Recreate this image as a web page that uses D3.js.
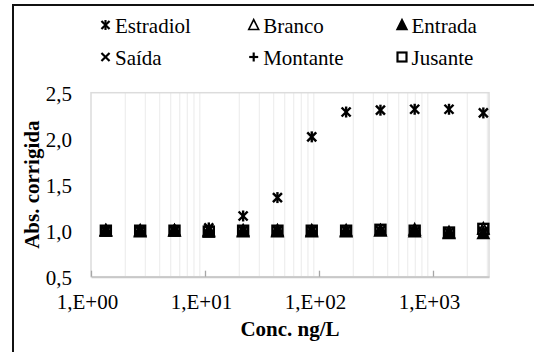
<!DOCTYPE html>
<html lang="pt">
<head>
  <meta charset="UTF-8">
  <title>Abs. corrigida vs Conc.</title>
  <script src="https://cdnjs.cloudflare.com/ajax/libs/d3/7.8.5/d3.min.js"></script>
  <style>
    body { margin: 0; background: #fff; }
    svg { display: block; }
  </style>
</head>
<body>
<svg id="chart" width="534" height="352"></svg>
<script>
// concentrations (ng/L) and corrected absorbance per sample
const conc      = [1.35, 2.7, 5.4, 10.8, 21.6, 43.2, 86.4, 173, 346, 691, 1382, 2765];
const estradiol = [1.00, 1.00, 1.00, 1.03, 1.16, 1.36, 2.02, 2.29, 2.31, 2.32, 2.32, 2.28];
const branco    = [1.00, 1.00, 1.00, 1.00, 1.00, 1.00, 1.00, 1.00, 1.00, 1.01, 0.98, 1.02];
const entrada   = [1.00, 0.99, 1.00, 0.99, 0.99, 0.99, 0.99, 0.99, 1.00, 0.99, 0.97, 0.97];
const saida     = [1.00, 1.00, 1.00, 1.01, 1.00, 1.00, 1.00, 1.00, 1.00, 0.99, 0.98, 0.99];
const montante  = [1.00, 1.00, 1.00, 1.00, 1.00, 1.00, 1.00, 1.00, 1.00, 1.00, 0.98, 1.00];
const jusante   = [1.00, 1.00, 1.00, 0.99, 1.00, 1.00, 1.00, 1.00, 1.01, 1.00, 0.98, 1.02];

const xTicks = [1, 10, 100, 1000];
const yTicks = [0.5, 1.0, 1.5, 2.0, 2.5];

const series = [
  { name: "Estradiol", values: estradiol, marker: "star" },
  { name: "Branco",    values: branco,    marker: "triOpen" },
  { name: "Entrada",   values: entrada,   marker: "triFill" },
  { name: "Saída",     values: saida,     marker: "x" },
  { name: "Montante",  values: montante,  marker: "plus" },
  { name: "Jusante",   values: jusante,   marker: "square" }
];

const serif = "'Liberation Serif', 'Times New Roman', serif";
const svg = d3.select("#chart");
const pLeft = 91, pRight = 489, pTop = 92.7, pBottom = 276.7;

const x = d3.scaleLog().domain([1, 3100]).range([pLeft, pRight]);
const y = d3.scaleLinear().domain([0.5, 2.5]).range([pBottom, pTop]);

// outer chart frame (cut by image edge)
svg.append("rect")
  .attr("x", 13).attr("y", 5).attr("width", 700).attr("height", 700)
  .attr("fill", "none").attr("stroke", "#111").attr("stroke-width", 2);

// minor vertical gridlines
const minor = [];
xTicks.forEach(d => { for (let k = 2; k <= 9; k++) if (d * k <= 3100) minor.push(d * k); });
svg.append("g").selectAll("line").data(minor).join("line")
  .attr("x1", d => x(d)).attr("x2", d => x(d))
  .attr("y1", pTop).attr("y2", pBottom)
  .attr("stroke", "#efefef").attr("stroke-width", 1.3);

// plot border
svg.append("rect")
  .attr("x", pLeft).attr("y", pTop).attr("width", pRight - pLeft).attr("height", pBottom - pTop)
  .attr("fill", "none").attr("stroke", "#dcdcdc").attr("stroke-width", 1.5);

// x axis
const fmtX = d => "1,E+" + String(Math.round(Math.log10(d))).padStart(2, "0");
const gx = svg.append("g").attr("transform", `translate(0,${pBottom})`)
  .call(d3.axisBottom(x).tickValues(xTicks).tickFormat(fmtX).tickSizeInner(-6).tickSizeOuter(0));
gx.select(".domain").attr("stroke", "#c8c8c8").attr("stroke-width", 2);
gx.selectAll(".tick line").attr("stroke", "#a6a6a6").attr("stroke-width", 1.3);
gx.selectAll(".tick text")
  .attr("y", 32).attr("dy", 0).attr("dx", -4)
  .style("font-size", "21px").style("font-family", serif).attr("fill", "#000");

// y axis
const gy = svg.append("g").attr("transform", `translate(${pLeft},0)`)
  .call(d3.axisLeft(y).tickValues(yTicks).tickFormat(d => d3.format(".1f")(d).replace(".", ",")).tickSize(0).tickPadding(19));
gy.select(".domain").remove();
gy.selectAll(".tick text")
  .attr("dy", "0.35em")
  .style("font-size", "21px").style("font-family", serif).attr("fill", "#000");

// axis titles
svg.append("text")
  .attr("x", (pLeft + pRight) / 2).attr("y", 336)
  .attr("text-anchor", "middle")
  .style("font-size", "21px").style("font-weight", "bold").style("font-family", serif)
  .text("Conc. ng/L");
svg.append("text")
  .attr("transform", `translate(39,${(pTop + pBottom) / 2}) rotate(-90)`)
  .attr("text-anchor", "middle")
  .style("font-size", "21px").style("font-weight", "bold").style("font-family", serif)
  .text("Abs. corrigida");

// marker drawing
function drawMarker(g, type) {
  const line = (x1, y1, x2, y2) => g.append("line")
    .attr("x1", x1).attr("y1", y1).attr("x2", x2).attr("y2", y2)
    .attr("stroke", "#000").attr("stroke-width", 2.4);
  if (type === "star") {
    line(-4.5, -4.5, 4.5, 4.5); line(-4.5, 4.5, 4.5, -4.5); line(0, -5.5, 0, 5.5);
  } else if (type === "x") {
    line(-4.5, -4.5, 4.5, 4.5); line(-4.5, 4.5, 4.5, -4.5);
  } else if (type === "plus") {
    line(-5, 0, 5, 0); line(0, -5, 0, 5);
  } else if (type === "triOpen" || type === "triFill") {
    g.append("path").attr("d", "M0,-6 L5.5,5 L-5.5,5 Z")
      .attr("fill", type === "triFill" ? "#000" : "none")
      .attr("stroke", "#000").attr("stroke-width", 1.8);
  } else if (type === "square") {
    g.append("rect").attr("x", -5).attr("y", -5).attr("width", 10).attr("height", 10)
      .attr("fill", "none").attr("stroke", "#000").attr("stroke-width", 2.4);
  }
}

// data points
series.forEach(s => {
  const g = svg.append("g");
  s.values.forEach((v, i) => {
    const m = g.append("g").attr("transform", `translate(${x(conc[i])},${y(v)})`);
    drawMarker(m, s.marker);
  });
});

// legend
const legX = [105.5, 253.7, 402];
const legY = [25, 57];
series.forEach((s, i) => {
  const cx = legX[i % 3], cy = legY[Math.floor(i / 3)];
  drawMarker(svg.append("g").attr("transform", `translate(${cx},${cy}) scale(0.9)`), s.marker);
  svg.append("text")
    .attr("x", cx + 9.5).attr("y", cy + 8)
    .style("font-size", "21px").style("font-family", serif).attr("fill", "#000")
    .text(s.name);
});
</script>
</body>
</html>
